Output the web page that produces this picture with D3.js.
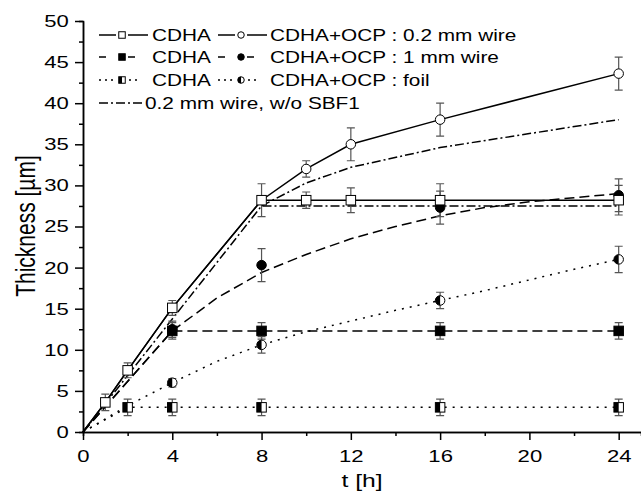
<!DOCTYPE html>
<html>
<head>
<meta charset="utf-8">
<script src="https://cdn.jsdelivr.net/npm/d3@7/dist/d3.min.js"></script>
<style>
  body { margin: 0; background: #fff; }
  svg { display: block; }
</style>
</head>
<body>
<div id="chart"></div>
<script>
// ticks
const xTicks = [0, 4, 8, 12, 16, 20, 24];
const xMinor = [2, 6, 10, 14, 18, 22];
const yTicks = [0, 5, 10, 15, 20, 25, 30, 35, 40, 45, 50];
const yMinor = [2.5, 7.5, 12.5, 17.5, 22.5, 27.5, 32.5, 37.5, 42.5, 47.5];

// 0.2 mm wire
const tWireCdha = [1, 2, 4, 8, 10, 12, 16, 24];
const vWireCdha = [3.6, 7.5, 15.1, 28.2, 28.2, 28.2, 28.2, 28.2];
const eWireCdha = [1, 0.9, 0.9, 2, 1, 1.5, 2, 1.8];
const tWireOcp = [10, 12, 16, 24];
const vWireOcp = [32, 35, 38, 43.6];
const eWireOcp = [1, 2, 2, 2];
const tLineWireCdha = [0, 1, 2, 4, 8, 24];
const vLineWireCdha = [0, 3.6, 7.5, 15.1, 28.2, 28.2];
const tLineWireOcp = [0, 1, 2, 4, 8, 10, 12, 16, 24];
const vLineWireOcp = [0, 3.6, 7.5, 15.1, 28.2, 32, 35, 38, 43.6];

// 1 mm wire
const tThickCdha = [4, 8, 16, 24];
const vThickCdha = [12.3, 12.3, 12.3, 12.3];
const eThickCdha = [1, 1, 1, 1];
const tThickOcp = [4, 8, 16, 24];
const vThickOcp = [12.5, 20.3, 27.3, 28.8];
const eThickOcp = [1, 2, 2, 2];
const tLineThickCdha = [0, 4, 24];
const vLineThickCdha = [0, 12.3, 12.3];
const tLineThickOcp = [0, 4, 6, 8, 10, 12, 14, 16, 18, 20, 22, 24];
const vLineThickOcp = [0, 12.3, 16.3, 19.4, 21.6, 23.5, 25, 26.3, 27.3, 28, 28.5, 29];

// foil
const tFoilCdha = [2, 4, 8, 16, 24];
const vFoilCdha = [3, 3, 3, 3, 3];
const eFoilCdha = [1, 1, 1, 1, 1];
const tFoilOcp = [4, 8, 16, 24];
const vFoilOcp = [6, 10.6, 16, 21];
const eFoilOcp = [0.5, 1, 1, 1.6];
const tLineFoilCdha = [0, 2, 24];
const vLineFoilCdha = [0, 3, 3];
const tLineFoilOcp = [0, 2, 4, 6, 8, 10, 12, 14, 16, 18, 20, 22, 24];
const vLineFoilOcp = [0, 3.2, 6, 8.6, 10.6, 12.2, 13.5, 14.8, 16, 17.2, 18.5, 19.8, 21];

// 0.2 mm wire without SBF1
const tLineNoSbfCdha = [0, 8, 24];
const vLineNoSbfCdha = [0, 27.5, 27.5];
const tLineNoSbfOcp = [8, 10, 12, 16, 20, 24];
const vLineNoSbfOcp = [27.5, 30.3, 32.2, 34.6, 36.3, 38];

const W = 641, H = 498;
const SX = 1.3; // the figure is stretched sideways
const FONT = "'Liberation Sans', Arial, sans-serif";

const svg = d3.select("#chart").append("svg")
    .attr("width", W)
    .attr("height", H)
    .style("font-family", FONT);

const x = d3.scaleLinear().domain([0, 25]).range([83, 641]);
const y = d3.scaleLinear().domain([0, 50]).range([432, 21]);

const DASH = { solid: null, dash: "10,5", dot: "2,6", dashdot: "9,3,2,3" };

const line = d3.line().x(d => x(d[0])).y(d => y(d[1]));

const plot = svg.append("g");

function drawLine(ts, vs, style) {
    plot.append("path")
        .datum(d3.zip(ts, vs))
        .attr("fill", "none")
        .attr("stroke", "#000")
        .attr("stroke-width", 1.5)
        .attr("stroke-dasharray", DASH[style])
        .attr("d", line);
}

drawLine(tLineWireOcp, vLineWireOcp, "solid");
drawLine(tLineWireCdha, vLineWireCdha, "solid");
drawLine(tLineThickCdha, vLineThickCdha, "dash");
drawLine(tLineThickOcp, vLineThickOcp, "dash");
drawLine(tLineFoilCdha, vLineFoilCdha, "dot");
drawLine(tLineFoilOcp, vLineFoilOcp, "dot");
drawLine(tLineNoSbfCdha, vLineNoSbfCdha, "dashdot");
drawLine(tLineNoSbfOcp, vLineNoSbfOcp, "dashdot");

// marker shapes
function marker(g, shape, cx, cy, s) {
    const h = s / 2;
    if (shape === "sqOpen" || shape === "sqFill" || shape === "sqHalf") {
        g.append("rect").attr("x", cx - h).attr("y", cy - h).attr("width", s).attr("height", s)
            .attr("fill", shape === "sqFill" ? "#000" : "#fff")
            .attr("stroke", "#000").attr("stroke-width", 1);
        if (shape === "sqHalf") {
            g.append("rect").attr("x", cx - h).attr("y", cy - h).attr("width", h).attr("height", s)
                .attr("fill", "#000");
        }
    } else {
        g.append("circle").attr("cx", cx).attr("cy", cy).attr("r", h)
            .attr("fill", shape === "ciFill" ? "#000" : "#fff")
            .attr("stroke", "#000").attr("stroke-width", 1);
        if (shape === "ciHalf") {
            g.append("path")
                .attr("d", `M${cx},${cy - h} A${h},${h} 0 0,0 ${cx},${cy + h} Z`)
                .attr("fill", "#000");
        }
    }
}

const bars = svg.append("g");
const marks = svg.append("g");

function drawPoints(ts, vs, es, shape) {
    ts.forEach((t, i) => {
        const cx = x(t);
        const y0 = y(vs[i] - es[i]), y1 = y(vs[i] + es[i]);
        bars.append("path")
            .attr("d", `M${cx},${y0}V${y1}M${cx - 4},${y0}H${cx + 4}M${cx - 4},${y1}H${cx + 4}`)
            .attr("stroke", "#555")
            .attr("stroke-width", 1.2)
            .attr("fill", "none");
        marker(marks, shape, cx, y(vs[i]), 9.5);
    });
}

drawPoints(tFoilCdha, vFoilCdha, eFoilCdha, "sqHalf");
drawPoints(tFoilOcp, vFoilOcp, eFoilOcp, "ciHalf");
drawPoints(tThickOcp, vThickOcp, eThickOcp, "ciFill");
drawPoints(tThickCdha, vThickCdha, eThickCdha, "sqFill");
drawPoints(tWireOcp, vWireOcp, eWireOcp, "ciOpen");
drawPoints(tWireCdha, vWireCdha, eWireCdha, "sqOpen");

// axes
function styleAxis(g) {
    g.selectAll("path, line").attr("stroke", "#000").attr("stroke-width", 1.5);
    g.selectAll("text").attr("fill", "#000").attr("font-size", 17).attr("font-family", FONT)
        .attr("transform", `scale(${SX},1)`);
}

svg.append("g")
    .attr("transform", "translate(0,432)")
    .call(d3.axisBottom(x).tickValues(xMinor).tickSize(4).tickFormat(""))
    .call(styleAxis);
svg.append("g")
    .attr("transform", "translate(0,432)")
    .call(d3.axisBottom(x).tickValues(xTicks).tickSize(8).tickSizeOuter(0).tickPadding(10))
    .call(styleAxis);

svg.append("g")
    .attr("transform", "translate(83,0)")
    .call(d3.axisLeft(y).tickValues(yMinor).tickSize(4).tickFormat(""))
    .call(styleAxis);
svg.append("g")
    .attr("transform", "translate(83,0)")
    .call(d3.axisLeft(y).tickValues(yTicks).tickSize(8).tickSizeOuter(0).tickPadding(3))
    .call(styleAxis);

// axis titles
svg.append("text")
    .attr("transform", `translate(362,487) scale(${SX},1)`)
    .attr("text-anchor", "middle")
    .attr("font-size", 19)
    .text("t [h]");

svg.append("text")
    .attr("transform", `translate(35,226) scale(${SX},1) rotate(-90)`)
    .attr("text-anchor", "middle")
    .attr("font-size", 21)
    .text("Thickness [µm]");

// legend
const legendRows = [
    { y: 35, style: "solid", a: "sqOpen", b: "ciOpen", label: "CDHA+OCP : 0.2 mm wire" },
    { y: 57, style: "dash", a: "sqFill", b: "ciFill", label: "CDHA+OCP : 1 mm wire" },
    { y: 80, style: "dot", a: "sqHalf", b: "ciHalf", label: "CDHA+OCP : foil" }
];
const lg = svg.append("g");

function legendSample(x0, row, shape) {
    const cy = row.y;
    if (row.style === "dash") {
        lg.append("line").attr("x1", x0).attr("x2", x0 + 36).attr("y1", cy).attr("y2", cy)
            .attr("stroke", "#000").attr("stroke-width", 1.5).attr("stroke-dasharray", "7,22,7");
    } else {
        const len = row.style === "solid" ? 49 : 39;
        lg.append("line").attr("x1", x0).attr("x2", x0 + len).attr("y1", cy).attr("y2", cy)
            .attr("stroke", "#000").attr("stroke-width", 1.5)
            .attr("stroke-dasharray", row.style === "dot" ? "2,4" : null);
        lg.append("rect").attr("x", x0 + 17).attr("y", cy - 5).attr("width", 12).attr("height", 10)
            .attr("fill", "#fff");
    }
    marker(lg, shape, x0 + 23, cy, 6.5);
}

legendRows.forEach(row => {
    legendSample(99, row, row.a);
    lg.append("text").attr("transform", `translate(152,${row.y + 6}) scale(${SX},1)`)
        .attr("font-size", 16).text("CDHA");
    legendSample(218, row, row.b);
    lg.append("text").attr("transform", `translate(270,${row.y + 6}) scale(${SX},1)`)
        .attr("font-size", 16).text(row.label);
});

lg.append("line").attr("x1", 99).attr("x2", 143).attr("y1", 103).attr("y2", 103)
    .attr("stroke", "#000").attr("stroke-width", 1.5).attr("stroke-dasharray", DASH.dashdot);
lg.append("text").attr("transform", `translate(145,109) scale(${SX},1)`)
    .attr("font-size", 16).text("0.2 mm wire, w/o SBF1");
</script>
</body>
</html>
